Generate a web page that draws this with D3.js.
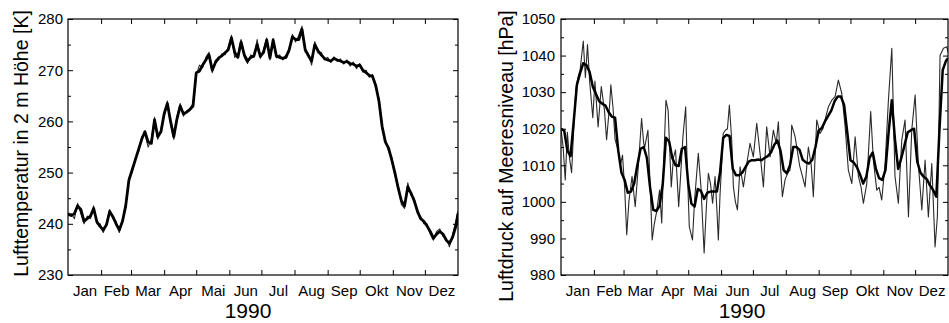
<!DOCTYPE html>
<html><head><meta charset="utf-8">
<script src="https://cdn.jsdelivr.net/npm/d3@7"></script>
<style>
body{margin:0;background:#fff}
svg{display:block}
text{font-family:"Liberation Sans",Arial,Helvetica,sans-serif;fill:#000}
</style>
</head><body>
<svg id="c" width="949" height="323"></svg>
<script>
// ---------- data ----------
const months = ["Jan","Feb","Mar","Apr","Mai","Jun","Jul","Aug","Sep","Okt","Nov","Dez"];
const monthStarts = [0,31,59,90,120,151,181,212,243,273,304,334,365];
const yearLabel = "1990";
const tempLabel = "Lufttemperatur in 2 m Höhe [K]";
const presLabel = "Luftdruck auf Meeresniveau [hPa]";
const tempTicks = [230,240,250,260,270,280];
const presTicks = [980,990,1000,1010,1020,1030,1040,1050];

// day of year for the 3-day grid (0..363, then 365)
const gridDays = d3.range(0, 364, 3).concat([365]);

const tempThick = [242.0,241.6,242.0,243.5,242.8,240.5,241.0,241.5,243.0,240.4,239.5,238.8,239.8,242.4,241.4,240.0,238.8,240.5,243.5,248.5,
250.5,252.5,254.5,256.5,258.0,256.0,255.7,260.3,257.0,258.0,261.5,263.5,260.0,257.0,260.5,263.0,261.5,261.8,262.3,263.0,
269.5,269.8,271.0,272.0,273.0,270.0,271.5,272.4,272.8,273.4,274.0,276.3,273.5,272.5,275.5,273.0,271.8,272.5,272.8,275.0,
272.7,273.5,275.9,272.4,275.9,272.8,272.5,272.3,272.5,274.0,276.5,276.0,276.0,278.0,274.0,272.8,271.8,275.0,273.8,273.0,
272.3,272.0,271.8,272.3,272.0,271.8,271.5,271.7,271.3,271.2,270.8,271.0,270.0,269.5,269.0,268.8,267.0,264.0,259.0,256.0,
254.8,252.5,249.9,247.0,244.5,243.5,247.2,246.0,244.5,242.5,241.0,240.5,239.6,238.5,237.2,238.0,238.5,238.0,236.8,236.2,
237.4,239.5,242.0];

const tempThin = [241.5,242.0,241.0,244.0,242.0,240.0,241.5,241.0,243.5,240.0,240.0,238.3,240.0,242.8,241.0,240.5,238.3,240.8,243.0,249.0,
250.0,252.8,254.0,257.0,257.5,255.0,256.5,260.8,256.5,258.5,261.0,264.0,259.5,256.5,261.0,263.5,261.0,262.0,262.5,263.5,
269.0,271.0,270.5,272.5,273.5,269.5,272.0,272.0,273.2,273.0,274.5,276.8,272.5,273.0,276.0,272.5,271.3,273.0,272.5,276.0,
272.3,274.0,276.3,272.0,276.2,272.4,273.0,272.0,273.0,273.5,277.0,275.5,276.8,278.6,273.5,273.3,271.0,275.6,273.3,273.5,
272.0,272.5,271.5,272.6,271.7,272.2,271.2,272.0,270.8,271.6,270.3,271.3,269.6,270.0,268.6,269.2,266.5,264.5,258.5,256.5,
254.2,253.0,249.5,247.5,243.8,243.0,248.0,245.5,245.0,242.0,241.5,240.0,240.0,238.0,236.8,238.5,239.0,237.5,237.2,235.5,
238.0,240.5,242.5];

const presThick = [1020,1019.5,1014,1012.5,1022,1032,1035.2,1037.9,1037.4,1035.5,1031.5,1029.5,1027.5,1026.8,1026.3,1024.5,1023.3,1023,1014,1008,
1006,1002.5,1002.8,1005,1010,1014.5,1015,1012,1004,997.8,997.5,999,1005,1017.5,1016.5,1012,1010,1009.8,1014.5,1015,
1005,999.5,998.7,1003.5,1003,1000.8,1002.5,1002.8,1002.8,1002.8,1008,1017.5,1018.3,1018,1009,1007.3,1007.3,1008,1009.5,1011,
1011.4,1011.4,1011.6,1011.4,1012,1012.5,1013.5,1015.5,1016.8,1014,1008.7,1007.8,1010,1015,1015,1014.2,1011.5,1010.8,1010.5,1011.5,
1015,1019.5,1020.2,1022,1023.5,1025,1027.5,1028.8,1028.8,1026.5,1019,1011.4,1010.8,1009.5,1007.5,1005,1006.9,1012,1013.5,1009,
1006.5,1006,1008.7,1019,1027.8,1017,1009,1012,1015.5,1019,1019.6,1020,1011,1008,1006.9,1006.2,1004.5,1003.2,1001.4,1020,
1036,1038.5,1039.3];

const presThinDays = [0,2,4,6,8,10,12,14,16,18,21,23,25,27,30,32,35,38,41,43,46,47,49,51,54,56,58,60,62,64,
67,70,73,76,78,79,82,84,86,88,90,93,95,97,99,101,104,106,108,111,113,115,117.6,119,121,124,126,129.5,132,135,
137,139,141,143,145.3,147,148.4,150,151.6,153,155,157,158.8,161,162.6,164.5,166.4,168.9,172,175,178.3,181.4,184.6,187.7,190.9,
194,197.2,200.3,203,205,207,208.8,211.3,214,216,217.6,220.8,222.3,225,227,230.2,233.3,236,238,241.2,244.3,247,249,252.2,
255.4,258.5,261.6,264.8,268,271,274.3,277.4,280.5,283,285.2,288.4,292.1,294.6,297.8,300,302.5,305.7,308.8,312,315,318.2,
321.4,324.5,327.7,330.8,334,337,340.3,343.4,346.5,349.7,352.8,355,357.5,360.7,363.9,365];

const presThin = [1020,1015,1006,1019,1012,1008,1020,1031,1034,1036,1044,1034,1043,1033,1023,1033,1020.5,1031.5,1025,1017,1027,1032,1026,1017,1014,1010,1012.8,1004,991,1000,
1007,998.7,1010,1022.8,1016,1015,1019.6,1005,989.6,994,997,1003.2,994.2,1012,1027.8,1025.1,1004.1,1012,1014.2,998.7,1008,1017.8,1026,1010,993.2,989.6,1000.5,1013.3,1004.1,986,
998,1007.8,1005,999.6,1006.9,998,989.6,1002,1010.5,1018.7,1019.6,1020,1026.5,1016.9,1004.1,1000,997.8,1009.6,1004.1,1010,1016,1012.3,1021.5,1013.3,1004.1,
1020.5,1012.3,1019.6,1016,1021.9,1010,1001.4,1006,1008,1008.7,1021,1017.8,1015.1,1010,1007.8,1004.1,1015,1010,1001.4,1022.4,1018.7,1020,1022.4,1026,
1027.8,1028.8,1033.3,1029.7,1020.5,1008.7,1005,1017.8,1007,1004,999.6,1005,1024.7,1011.4,1003.2,1004,1000.5,1010.5,1027.8,1042,1007,999.6,
1016.9,1022.4,995.9,1019.6,1029.2,1010.5,997.8,1011.4,995.9,1010.5,987.7,996,1040,1042,1042.4,1041];

// ---------- drawing ----------
const svg = d3.select("#c");
const FONT = '"Liberation Sans",Arial,Helvetica,sans-serif';

function styleAxis(g, size) {
  g.attr("font-family", FONT).attr("font-size", size);
  g.select(".domain").remove();
  g.selectAll("line").attr("stroke", "#000").attr("stroke-width", 1);
}

function panel(cfg) {
  const g = svg.append("g");
  const x = d3.scaleLinear().domain([0, 365]).range([cfg.x0, cfg.x1]);
  const y = d3.scaleLinear().domain([cfg.ticks[0], cfg.ticks[cfg.ticks.length - 1]]).range([cfg.yb, cfg.yt]);
  const minor = d3.range(cfg.ticks[0] + 5, cfg.ticks[cfg.ticks.length - 1], 10);
  const innerMonths = monthStarts.slice(1, -1);
  const mids = months.map((m, i) => (monthStarts[i] + monthStarts[i + 1]) / 2);

  const clipId = "clip" + cfg.id;
  svg.append("clipPath").attr("id", clipId).append("rect")
    .attr("x", cfg.x0).attr("y", cfg.yt).attr("width", cfg.x1 - cfg.x0).attr("height", cfg.yb - cfg.yt);

  const lineGen = d3.line().x(d => x(d[0])).y(d => y(d[1]));
  const lines = g.append("g").attr("clip-path", `url(#${clipId})`);
  lines.append("path").datum(cfg.thinDays.map((d, i) => [d, cfg.thin[i]]))
    .attr("fill", "none").attr("stroke", "#2a2a2a").attr("stroke-width", 1.1)
    .attr("stroke-linejoin", "round").attr("d", lineGen);
  lines.append("path").datum(cfg.thickDays.map((d, i) => [d, cfg.thick[i]]))
    .attr("fill", "none").attr("stroke", "#000").attr("stroke-width", cfg.thickW)
    .attr("stroke-linejoin", "round").attr("d", lineGen);

  // left axis with labels (inward ticks)
  const la = g.append("g").attr("transform", `translate(${cfg.x0},0)`)
    .call(d3.axisLeft(y).tickValues(cfg.ticks).tickSize(-5).tickPadding(cfg.labPad).tickFormat(d3.format("d")));
  styleAxis(la, 15);
  const lm = g.append("g").attr("transform", `translate(${cfg.x0},0)`)
    .call(d3.axisLeft(y).tickValues(minor).tickSize(-3).tickFormat(""));
  styleAxis(lm, 15);
  // right axis ticks
  const ra = g.append("g").attr("transform", `translate(${cfg.x1},0)`)
    .call(d3.axisRight(y).tickValues(cfg.ticks).tickSize(-5).tickFormat(""));
  styleAxis(ra, 15);
  const rm = g.append("g").attr("transform", `translate(${cfg.x1},0)`)
    .call(d3.axisRight(y).tickValues(minor).tickSize(-3).tickFormat(""));
  styleAxis(rm, 15);
  // top & bottom month ticks
  const ta = g.append("g").attr("transform", `translate(0,${cfg.yt})`)
    .call(d3.axisTop(x).tickValues(innerMonths).tickSize(-5).tickFormat(""));
  styleAxis(ta, 15);
  const ba = g.append("g").attr("transform", `translate(0,${cfg.yb})`)
    .call(d3.axisBottom(x).tickValues(innerMonths).tickSize(-5).tickFormat(""));
  styleAxis(ba, 15);
  // month labels
  const ml = g.append("g").attr("transform", `translate(0,${cfg.yb})`)
    .call(d3.axisBottom(x).tickValues(mids).tickSize(0).tickPadding(10).tickFormat((d, i) => months[i]));
  styleAxis(ml, 15);
  ml.selectAll("line").remove();

  // frame
  g.append("rect").attr("x", cfg.x0).attr("y", cfg.yt)
    .attr("width", cfg.x1 - cfg.x0).attr("height", cfg.yb - cfg.yt)
    .attr("fill", "none").attr("stroke", "#000").attr("stroke-width", 1.2);

  // year
  g.append("text").attr("x", cfg.yearX).attr("y", cfg.yearY)
    .attr("text-anchor", "middle").attr("font-size", 21).text(yearLabel);
  // y label
  g.append("text").attr("transform", `translate(${cfg.labX},${cfg.labY}) rotate(-90)`)
    .attr("text-anchor", "middle").attr("font-size", 19.5).text(cfg.label);
}

panel({
  id: "T", x0: 68, x1: 458, yt: 19, yb: 275, ticks: tempTicks, labPad: 5,
  thickDays: gridDays, thick: tempThick, thinDays: gridDays, thin: tempThin, thickW: 2.8,
  yearX: 248, yearY: 318, labX: 28, labY: 143.5, label: tempLabel
});
panel({
  id: "P", x0: 561, x1: 948, yt: 19, yb: 275, ticks: presTicks, labPad: 6,
  thickDays: gridDays, thick: presThick, thinDays: presThinDays, thin: presThin, thickW: 2.5,
  yearX: 742, yearY: 318, labX: 513, labY: 156, label: presLabel
});
</script>
</body></html>
